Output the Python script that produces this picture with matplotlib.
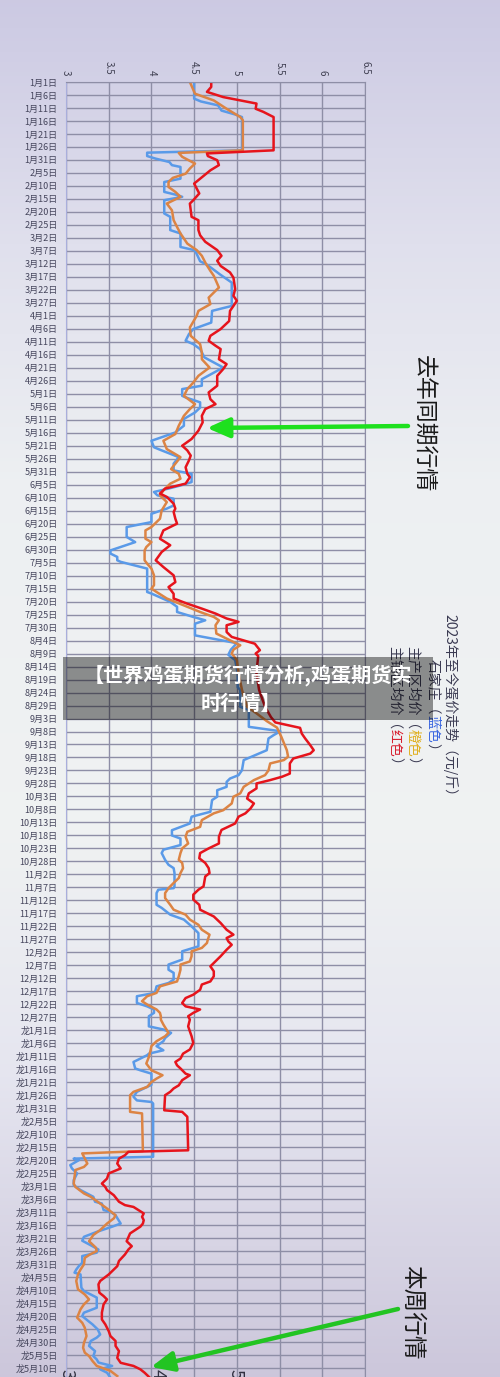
import numpy as np
import pandas as pd
import matplotlib
matplotlib.use('Agg')
import matplotlib.pyplot as plt
from matplotlib import patches

plt.rcParams['font.family'] = ['Noto Sans CJK SC', 'DejaVu Sans']

# 价格（元/斤），横轴；纵轴是从2023-01-01起的天数
x_ticks = [3, 3.5, 4, 4.5, 5, 5.5, 6, 6.5]
x_labels = ['3', '3.5', '4', '4.5', '5', '5.5', '6', '6.5']

dates = pd.date_range('2023-01-01', '2024-05-10', freq='5D')
date_labels = [('龙' if d.year == 2024 else '') + f'{d.month}月{d.day}日' for d in dates]
tick_days = list((dates - dates[0]).days)

# 石家庄（蓝色）
blue_days = [0, 6.4, 7.5, 9, 11, 12.5, 13.5, 26.3, 27.2, 28.5,
             29.5, 30.8, 32, 32.7, 37.2, 38.5, 42.3, 43.5, 44.2, 45.5,
             50.6, 51.9, 57, 58.3, 63.5, 64.7, 65.5, 69, 70.3, 74,
             77.2, 86.2, 88.1, 92.6, 95.1, 97, 99.6, 100.9, 102.8, 106,
             109.9, 114.4, 116.9, 118.2, 120.8, 121.4, 123.3, 125.3, 127.2, 129.7,
             132.3, 134.9, 138.1, 140.6, 141.8, 144.4, 146.9, 149.5, 150.8, 154,
             155.3, 156.5, 157.8, 159.1, 160.4, 163, 164.2, 166.2, 169.4, 171.3,
             175.1, 177.1, 180.3, 181.5, 182.8, 184.1, 184.7, 187.3, 196.3, 196.9,
             200.1, 202, 204, 205.9, 207.2, 208.5, 213, 216, 218.5, 220.5,
             222.5, 227.6, 233, 234, 240.5, 241.7, 248.2, 249.9, 251.4, 252.7,
             257.2, 261, 264.9, 266.8, 268.1, 269.4, 271.3, 272.6, 275.1, 276.4,
             280.9, 282.8, 285.4, 288, 290, 291.2, 293.7, 295.5, 296.8, 299.4,
             301.3, 302.6, 304.5, 309.6, 310.3, 310.9, 312.2, 316.7, 317.9, 320.5,
             322.4, 325, 326.3, 327.6, 332.7, 333.3, 334.6, 337.8, 339.7, 341.7,
             342.9, 345.5, 346.8, 348.1, 350.6, 351.9, 354.5, 355.8, 357, 358.3,
             359.6, 363.5, 364.7, 366, 368, 369.2, 371.1, 372.7, 373.3, 374,
             374.6, 377.2, 379.7, 380.4, 381.7, 386, 386.8, 388.7, 390.6, 392,
             392.6, 393.2, 413.7, 414.4, 415, 416.9, 418.2, 420.1, 422.7, 424.6,
             426.5, 429.1, 431, 431.7, 434.2, 434.9, 436.2, 439.4, 440.6, 442.6,
             444.5, 446, 447.4, 449.4, 450.6, 451.9, 454.5, 455.8, 457.1, 458.3,
             459, 464.1, 465.4, 466.7, 467.9, 471.8, 473.7, 475, 476.9, 478.2,
             480.1, 482.1, 483.3, 484.6, 486.5, 488.5, 490.4, 491.7, 492.9, 494.2,
             495.5, 496.8, 498.7]
blue_vals = [4.50, 4.50, 4.58, 4.78, 4.82, 4.98, 5.06, 5.06, 3.95, 3.95,
             4.05, 4.21, 4.24, 4.34, 4.34, 4.15, 4.15, 4.30, 4.36, 4.15,
             4.15, 4.22, 4.22, 4.34, 4.34, 4.50, 4.52, 4.57, 4.65, 4.80,
             4.94, 4.94, 4.71, 4.70, 4.49, 4.44, 4.40, 4.49, 4.57, 4.62,
             4.84, 4.59, 4.59, 4.36, 4.36, 4.40, 4.57, 4.57, 4.51, 4.38,
             4.38, 4.28, 4.00, 4.03, 4.12, 4.32, 4.26, 4.26, 4.47, 4.47,
             4.34, 4.20, 4.03, 4.07, 4.26, 4.26, 4.18, 4.00, 4.00, 3.71,
             3.71, 3.81, 3.52, 3.52, 3.60, 3.60, 3.64, 3.95, 3.95, 4.00,
             4.22, 4.30, 4.30, 4.49, 4.63, 4.51, 4.51, 5.00, 4.93, 4.90,
             4.98, 5.01, 5.01, 5.04, 5.04, 5.14, 5.14, 5.51, 5.43, 5.37,
             5.35, 5.08, 5.06, 5.02, 4.92, 4.88, 4.88, 4.77, 4.77, 4.71,
             4.69, 4.47, 4.45, 4.24, 4.24, 4.34, 4.34, 4.14, 4.12, 4.16,
             4.20, 4.26, 4.27, 4.27, 4.26, 4.08, 4.06, 4.06, 4.12, 4.22,
             4.38, 4.47, 4.51, 4.55, 4.55, 4.49, 4.36, 4.36, 4.20, 4.20,
             4.26, 4.26, 4.20, 4.06, 4.04, 3.83, 3.83, 3.95, 4.03, 4.03,
             3.97, 3.97, 4.14, 4.23, 4.16, 4.14, 4.06, 4.14, 4.06, 3.97,
             3.95, 3.79, 3.81, 3.87, 4.00, 4.00, 3.95, 3.83, 3.79, 3.83,
             4.00, 4.02, 4.02, 3.09, 3.15, 3.05, 3.07, 3.13, 3.09, 3.09,
             3.17, 3.32, 3.34, 3.42, 3.44, 3.52, 3.58, 3.64, 3.54, 3.36,
             3.21, 3.19, 3.27, 3.38, 3.36, 3.19, 3.19, 3.15, 3.12, 3.10,
             3.17, 3.18, 3.21, 3.29, 3.36, 3.36, 3.21, 3.19, 3.26, 3.31,
             3.37, 3.40, 3.36, 3.29, 3.27, 3.34, 3.32, 3.36, 3.38, 3.54,
             3.40, 3.48, 3.52]

# 主产区均价（橙色）
orange_days = [0, 4.5, 7.1, 10.3, 13.5, 14.7, 26.3, 27.3, 28.8, 31.4,
               33.3, 35.3, 36.9, 38.5, 40.4, 42.3, 44.2, 46.8, 49.4, 53.2,
               55.8, 58.3, 62.2, 64.7, 66.9, 70.1, 72.7, 74.6, 79.1, 83,
               85.5, 88.1, 90, 94.5, 97.7, 100.9, 104.1, 106.7, 109.9, 113.1,
               115.7, 118.2, 120.8, 124, 125.9, 128.5, 132.3, 135.5, 138.1, 141.3,
               144.4, 146.9, 149, 150.8, 152.7, 154.6, 157.2, 159.1, 161.7, 164.9,
               168.1, 171.3, 172.6, 175.8, 177.1, 179, 180.3, 184.1, 185.4, 187.3,
               189.9, 193.7, 195, 196.3, 198.8, 202, 204, 205.9, 207.2, 209.1,
               212.3, 214.9, 216.8, 218.5, 220, 222.5, 227.6, 234, 240.5, 243,
               246, 248.5, 252, 257.2, 259.7, 261, 262.3, 265, 266.8, 268.7,
               271.3, 273.8, 275.1, 277.7, 280.3, 281.5, 284.1, 286.7, 288.6, 290.5,
               293.1, 295, 296.8, 299.4, 300.6, 302.6, 304.5, 306.4, 308.3, 310.3,
               312.2, 314.1, 316.7, 318.6, 320.5, 322.4, 324.4, 326.3, 328.2, 330.1,
               331.4, 333.3, 334.6, 336.5, 338.5, 339.7, 341.7, 344.2, 346.2, 348.1,
               350.6, 351.9, 353.8, 355.1, 357, 358.3, 359.6, 360.9, 362.8, 366,
               367.3, 369.2, 371.1, 372.7, 375.3, 377.8, 380.4, 382.3, 383.6, 384.9,
               386.8, 388.7, 390, 396.4, 397, 411.5, 412.4, 413.7, 416.3, 417.6,
               418.8, 421.4, 424, 425.3, 427.8, 429.1, 431.7, 433.6, 436.2, 437.4,
               439.4, 441.9, 443.8, 446.2, 448.7, 450, 451.3, 452.6, 455.1, 457.1,
               459, 461.5, 464.7, 466.7, 468.6, 470.5, 472.4, 475.6, 477.6, 479.5,
               482.7, 485.3, 487.2, 489.1, 490.4, 492.3, 494.2, 496.1, 498.1]
orange_vals = [4.45, 4.51, 4.73, 4.88, 5.04, 5.07, 5.07, 4.32, 4.36, 4.51,
               4.45, 4.40, 4.25, 4.20, 4.20, 4.28, 4.34, 4.18, 4.24, 4.26,
               4.30, 4.34, 4.42, 4.53, 4.59, 4.64, 4.69, 4.73, 4.79, 4.67,
               4.69, 4.55, 4.53, 4.45, 4.46, 4.57, 4.59, 4.59, 4.68, 4.55,
               4.49, 4.42, 4.38, 4.51, 4.45, 4.38, 4.32, 4.28, 4.14, 4.18,
               4.34, 4.28, 4.23, 4.32, 4.34, 4.22, 4.14, 4.10, 4.18, 4.12,
               4.10, 4.00, 3.93, 3.93, 4.00, 3.94, 3.92, 3.92, 3.95, 4.00,
               4.03, 4.03, 4.00, 4.06, 4.18, 4.42, 4.57, 4.73, 4.79, 4.75,
               4.76, 4.92, 5.04, 4.96, 4.94, 5.00, 5.02, 5.06, 5.12, 5.23,
               5.35, 5.47, 5.52, 5.585, 5.60, 5.55, 5.39, 5.37, 5.33, 5.20,
               5.08, 5.04, 4.96, 4.94, 4.84, 4.73, 4.59, 4.57, 4.42, 4.40,
               4.43, 4.36, 4.34, 4.32, 4.36, 4.37, 4.34, 4.32, 4.26, 4.20,
               4.16, 4.16, 4.22, 4.26, 4.40, 4.45, 4.55, 4.59, 4.68, 4.66,
               4.65, 4.59, 4.47, 4.47, 4.45, 4.34, 4.34, 4.32, 4.30, 4.10,
               4.06, 3.95, 3.89, 3.95, 4.06, 4.10, 4.11, 4.11, 4.14, 4.20,
               4.16, 4.06, 4.00, 3.99, 3.97, 3.94, 4.00, 4.13, 4.06, 4.00,
               3.95, 3.79, 3.75, 3.75, 3.89, 3.90, 3.19, 3.21, 3.25, 3.21,
               3.11, 3.10, 3.09, 3.11, 3.21, 3.29, 3.40, 3.48, 3.58, 3.56,
               3.48, 3.40, 3.32, 3.27, 3.35, 3.36, 3.28, 3.22, 3.21, 3.17,
               3.14, 3.12, 3.14, 3.22, 3.27, 3.21, 3.17, 3.13, 3.19, 3.22,
               3.24, 3.21, 3.20, 3.22, 3.27, 3.31, 3.36, 3.52, 3.60]

# 主销区均价（红色）
red_days = [0, 1.9, 3.8, 5.8, 7.1, 8.3, 10.3, 11.5, 13.5, 26.3,
            27.5, 28.5, 30.1, 32, 34, 37.2, 39.1, 42.9, 45.5, 46.8,
            51.9, 53.2, 57, 59, 61.5, 64.7, 66.9, 68.8, 70.8, 73.3,
            75.3, 79.7, 82.3, 84.2, 86.2, 88.1, 92, 95.1, 97.7, 99.6,
            101.5, 102.8, 106.7, 108.6, 110.5, 113.1, 116.9, 119.5, 122.1, 124,
            125.9, 128.5, 131, 134.2, 137.4, 140, 141.8, 143.8, 145.6, 148.3,
            150.8, 152.1, 154.6, 156.5, 158.4, 159.7, 162.3, 164.2, 165.5, 168.1,
            170, 172.6, 175.8, 178.3, 180.9, 184.1, 186.7, 189.9, 192.5, 194.4,
            197, 198.8, 200.8, 202.7, 204.6, 206.5, 207.8, 209.1, 211.7, 213.6,
            216.2, 218.7, 220, 221, 224, 227.6, 234, 240.5, 244.5, 246.5,
            248.6, 250.8, 252.7, 255.3, 257.2, 258.5, 260.4, 262.3, 266.2, 267.4,
            268.7, 270, 271.9, 273.8, 275.8, 277.7, 279.6, 281.5, 282.8, 285.4,
            287.9, 290.5, 293.1, 295, 296.8, 298.8, 300.6, 302.6, 304.5, 305.8,
            307.7, 309.6, 310.9, 312.8, 314.7, 316.7, 318.6, 319.9, 321.2, 323.7,
            326.3, 328.2, 329.5, 330.8, 332.1, 334, 336.5, 339.1, 340.4, 342.3,
            344.2, 346.2, 347.4, 349.4, 351.3, 352.6, 354.5, 355.8, 357, 358.3,
            359.6, 360.9, 363.5, 365.4, 367.3, 369.9, 372.4, 374, 375.9, 377.2,
            378.5, 379.7, 381.7, 382.3, 384.2, 386.2, 387.4, 388.7, 390, 395.8,
            396.4, 398.3, 411.2, 411.8, 413.1, 414.4, 416.3, 418.2, 420.1, 422.1,
            424, 425.3, 426.5, 428.5, 431, 432.3, 433, 435.5, 436.8, 438.1,
            439.4, 440.6, 443.2, 446.2, 448.1, 449.4, 451.3, 453.8, 455.8, 457.1,
            459, 461.5, 462.8, 466, 467.3, 468.6, 470.5, 473.7, 476.3, 478.2,
            480.8, 482.7, 484.6, 486.5, 488.5, 491.1, 493, 494.2, 495.5, 496.8,
            498.7]
red_vals = [4.70, 4.70, 4.65, 4.84, 5.04, 5.23, 5.22, 5.31, 5.43, 5.43,
            4.65, 4.66, 4.77, 4.79, 4.69, 4.57, 4.50, 4.56, 4.49, 4.45,
            4.47, 4.55, 4.55, 4.57, 4.63, 4.77, 4.82, 4.77, 4.81, 4.92,
            4.96, 4.98, 4.96, 5.00, 4.96, 4.92, 4.91, 4.81, 4.69, 4.67,
            4.75, 4.81, 4.79, 4.88, 4.84, 4.77, 4.77, 4.67, 4.69, 4.75,
            4.63, 4.59, 4.60, 4.55, 4.47, 4.36, 4.42, 4.46, 4.44, 4.40,
            4.42, 4.45, 4.40, 4.16, 4.10, 4.18, 4.26, 4.28, 4.26, 4.28,
            4.30, 4.14, 4.10, 4.22, 4.12, 4.05, 4.14, 4.26, 4.28, 4.20,
            4.26, 4.26, 4.42, 4.59, 4.75, 4.88, 5.02, 4.88, 4.88, 4.94,
            5.21, 5.27, 5.22, 5.25, 5.24, 5.23, 5.26, 5.33, 5.40, 5.45,
            5.74, 5.76, 5.80, 5.86, 5.90, 5.86, 5.66, 5.62, 5.62, 5.53,
            5.39, 5.23, 5.23, 5.14, 5.12, 5.20, 5.16, 5.10, 5.02, 4.98,
            4.82, 4.79, 4.79, 4.67, 4.57, 4.56, 4.63, 4.67, 4.68, 4.63,
            4.62, 4.61, 4.55, 4.49, 4.49, 4.56, 4.57, 4.65, 4.73, 4.81,
            4.88, 4.96, 4.88, 4.90, 4.94, 4.88, 4.81, 4.73, 4.69, 4.73,
            4.73, 4.69, 4.59, 4.57, 4.49, 4.40, 4.36, 4.40, 4.57, 4.49,
            4.43, 4.45, 4.43, 4.45, 4.47, 4.49, 4.45, 4.37, 4.34, 4.28,
            4.30, 4.34, 4.40, 4.45, 4.36, 4.32, 4.26, 4.22, 4.16, 4.15,
            4.36, 4.42, 4.43, 3.73, 3.69, 3.62, 3.60, 3.64, 3.50, 3.48,
            3.42, 3.46, 3.48, 3.56, 3.62, 3.69, 3.79, 3.91, 3.89, 3.91,
            3.90, 3.87, 3.75, 3.71, 3.77, 3.73, 3.69, 3.62, 3.60, 3.56,
            3.50, 3.40, 3.38, 3.39, 3.44, 3.48, 3.44, 3.42, 3.42, 3.46,
            3.50, 3.52, 3.58, 3.58, 3.62, 3.60, 3.64, 3.79, 3.87, 3.92,
            3.98]

W, H = 500, 1377
fig = plt.figure(figsize=(W / 100, H / 100), dpi=100)

# 背景渐变
bg = fig.add_axes([0, 0, 1, 1], zorder=-5)
tt = np.linspace(0, 1, 400)
stop_t = [0, 0.18, 0.35, 0.6, 0.78, 1]
stop_c = [(0.80, 0.79, 0.89), (0.88, 0.88, 0.93), (0.93, 0.94, 0.95),
          (0.94, 0.95, 0.95), (0.90, 0.90, 0.94), (0.80, 0.78, 0.86)]
grad = np.stack([np.interp(tt, stop_t, [c[i] for c in stop_c]) for i in range(3)], axis=-1)
bg.imshow(np.repeat(grad[:, None, :], 10, axis=1), aspect='auto', extent=[0, 1, 0, 1])
bg.axis('off')

ax = fig.add_axes([66 / W, 0, 299 / W, 1 - 82 / H])
ax.set_facecolor('none')
ax.plot(blue_vals, blue_days, color='#5a9ae8', lw=1.8, solid_joinstyle='round')
ax.plot(orange_vals, orange_days, color='#dc8444', lw=1.8, solid_joinstyle='round')
ax.plot(red_vals, red_days, color='#e6141c', lw=1.8, solid_joinstyle='round')

ax.set_xlim(3, 6.5)
ax.set_ylim((H - 82) / 12.99 * 5, 0)
ax.set_xticks(x_ticks)
ax.set_xticklabels(x_labels)
ax.set_yticks(tick_days)
ax.set_yticklabels(date_labels)
ax.xaxis.tick_top()
ax.tick_params(axis='x', length=0, pad=5, labelsize=7, labelrotation=270, labelcolor='#404052')
ax.tick_params(axis='y', length=0, pad=6, labelsize=6.5, labelcolor='#45455c')
ax.grid(True, color='#8e8ea6', lw=1.0)
ax.set_axisbelow(True)
for s in ['top', 'right']:
    ax.spines[s].set_color('#8e8ea6')
ax.spines['left'].set_color('#a9aedc')
ax.spines['bottom'].set_visible(False)

# 叠加层（像素坐标）
ov = fig.add_axes([0, 0, 1, 1], zorder=3)
ov.set_xlim(0, W)
ov.set_ylim(H, 0)
ov.axis('off')

ov.add_patch(patches.Rectangle((63, 657), 370, 63, facecolor='black', alpha=0.42,
                               edgecolor='none', zorder=5))
ov.text(248, 675, '【世界鸡蛋期货行情分析,鸡蛋期货实', color='white', fontsize=14.5,
        fontweight='bold', ha='center', va='center', zorder=6)
ov.text(241, 703, '时行情】', color='white', fontsize=14.5, fontweight='bold',
        ha='center', va='center', zorder=6)

ov.annotate('', xy=(207, 428), xytext=(408, 426),
            arrowprops=dict(arrowstyle='-|>,head_length=0.9,head_width=0.4', color='#1ee01e',
                            lw=3.2, mutation_scale=15, shrinkA=0, shrinkB=0))
ov.annotate('', xy=(151, 1367), xytext=(398, 1309),
            arrowprops=dict(arrowstyle='-|>,head_length=0.9,head_width=0.4', color='#22c422',
                            lw=3.2, mutation_scale=15, shrinkA=0, shrinkB=0))
ov.text(423, 355, '去年同期行情', rotation=270, ha='center', va='top', fontsize=16.5, color='#1a1a1a')
ov.text(412, 1265, '本周行情', rotation=270, ha='center', va='top', fontsize=17, color='#1a1a1a')

for xs, s in [(67, '3'), (158, '4'), (236, '5')]:
    ov.text(xs, 1369, s, rotation=270, ha='center', va='top', fontsize=13, color='#303040')

renderer = fig.canvas.get_renderer()


def vline(x, yc, pieces, size=10):
    texts = [ov.text(x, 0, s, color=c, rotation=270, ha='center', va='top', fontsize=size, zorder=1)
             for s, c in pieces]
    hs = [t.get_window_extent(renderer).height for t in texts]
    y = yc - sum(hs) / 2
    for t, h in zip(texts, hs):
        t.set_y(y)
        y += h


dark = '#3a3a52'
vline(450, 708, [('2023年至今蛋价走势（元/斤）', dark)])
vline(432, 708, [('石家庄（', dark), ('蓝色', '#3a66e0'), ('）', dark)])
vline(413, 708, [('主产区均价（', dark), ('橙色', '#e0b020'), ('）', dark)])
vline(395, 708, [('主销区均价（', dark), ('红色', '#d82030'), ('）', dark)])

fig.savefig('out.png', dpi=100)
